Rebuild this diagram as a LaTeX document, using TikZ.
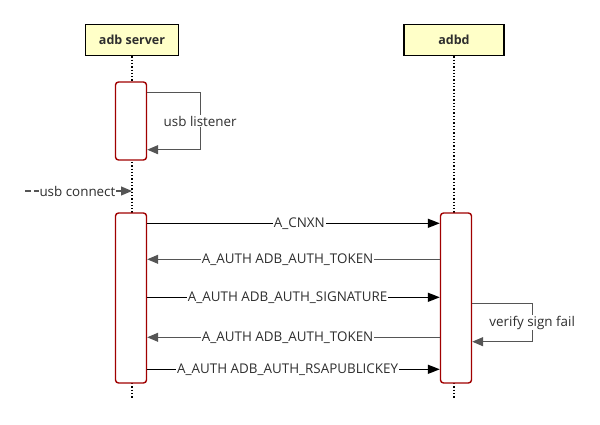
\documentclass[tikz,border=0pt]{standalone}
\usepackage{fontspec}
\setmainfont{Open Sans}
\usetikzlibrary{positioning}
\usetikzlibrary{arrows.meta}
\definecolor{actorfill}{HTML}{FFFFC8}
\definecolor{actred}{HTML}{A00000}
\definecolor{txtgray}{HTML}{2E2E2E}
\definecolor{linegray}{HTML}{555555}
\tikzset{
    actor/.style={draw=black,line width=1.8pt,fill=actorfill,minimum width=93pt,minimum height=31pt,inner sep=0pt,text=txtgray,font=\fontsize{12.5}{14}\selectfont\bfseries},
    act/.style={draw=actred,line width=1.4pt,fill=white,rounded corners=3pt,minimum width=31pt,inner sep=0pt},
    life/.style={black,line width=1.3pt,dash pattern=on 1.3pt off 2pt},
    lbl/.style={fill=white,inner sep=1pt,text=txtgray,font=\fontsize{13.4}{15}\selectfont},
    callmsg/.style={black,line width=1.5pt,-{Triangle[length=12pt,width=9pt]}},
    backmsg/.style={linegray,line width=1.1pt,-{Triangle[length=11pt,width=9pt]}},
    selfmsg/.style={linegray,line width=1.3pt,-{Triangle[length=11pt,width=9pt]}}
}
\begin{document}
\begin{tikzpicture}[x=1pt,y=-1pt]
    \useasboundingbox (0,0) rectangle (600,425);
    % participants
    \node[actor] (srv) at (132,40) {adb server};
    \node[actor,minimum width=100pt] (adbd) at (454,40) {adbd};
    \draw[life] (srv.south) -- (srv.south |- 0,398);
    \draw[life] (adbd.south) -- (adbd.south |- 0,398);
    % activations
    \node[act,minimum height=78pt] (srvA) at (131,121) {};
    \node[act,minimum height=170pt] (srvB) at (131,298) {};
    \node[act,minimum height=170pt] (adbdB) at (456,298) {};
    % usb listener
    \draw[selfmsg] ([yshift=-11pt]srvA.north east) -- ++(53,0) |- node[pos=0.25,lbl]{usb listener} ([yshift=11pt]srvA.south east);
    % usb connect
    \coordinate (uc) at (25,191);
    \draw[backmsg,dash pattern=on 6pt off 3pt] (uc) -- node[lbl,pos=0.49,inner sep=0.5pt]{usb connect} (uc -| srv.south);
    % handshake
    \draw[callmsg] ([yshift=-11pt]srvB.north east) -- node[lbl,pos=0.52]{A\_CNXN} ([yshift=-11pt]adbdB.north west);
    \draw[backmsg] ([yshift=-47pt]adbdB.north west) -- node[lbl,pos=0.52]{A\_AUTH ADB\_AUTH\_TOKEN} ([yshift=-47pt]srvB.north east);
    \draw[callmsg] ([yshift=-85pt]srvB.north east) -- node[lbl,pos=0.48]{A\_AUTH ADB\_AUTH\_SIGNATURE} ([yshift=-85pt]adbdB.north west);
    \draw[selfmsg] ([yshift=-91pt]adbdB.north east) -- ++(60,0) |- node[pos=0.25,lbl]{verify sign fail} ([yshift=42pt]adbdB.south east);
    \draw[backmsg] ([yshift=-125pt]adbdB.north west) -- node[lbl,pos=0.52]{A\_AUTH ADB\_AUTH\_TOKEN} ([yshift=-125pt]srvB.north east);
    \draw[callmsg] ([yshift=-157pt]srvB.north east) -- node[lbl,pos=0.48]{A\_AUTH ADB\_AUTH\_RSAPUBLICKEY} ([yshift=-157pt]adbdB.north west);
\end{tikzpicture}
\end{document}
